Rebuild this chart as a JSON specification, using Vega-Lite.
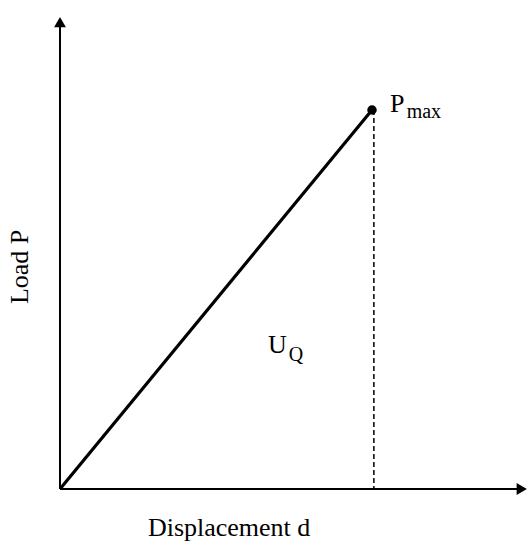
{
  "$schema": "https://vega.github.io/schema/vega-lite/v6.json",
  "width": 528,
  "height": 542,
  "autosize": {"type": "none"},
  "padding": 0,
  "background": "white",
  "config": {"view": {"stroke": null}},
  "datasets": {
    "axes": [
      {"x": 0, "y": 0, "x2": 1.485, "y2": 0},
      {"x": 0, "y": 0, "x2": 0, "y2": 1.23}
    ],
    "load": [{"x": 0, "y": 0, "x2": 1, "y2": 1}],
    "drop": [{"x": 1.006, "y": 1, "x2": 1.006, "y2": 0}],
    "peak": [{"x": 1, "y": 1}],
    "arrowUp": [{"x": 0, "y": 1.232}],
    "arrowRight": [{"x": 1.48, "y": 0}],
    "bigText": [
      {"x": 1.058, "y": 0.995, "label": "P"},
      {"x": 0.667, "y": 0.359, "label": "U"}
    ],
    "subText": [
      {"x": 1.111, "y": 0.98, "label": "max"},
      {"x": 0.733, "y": 0.338, "label": "Q"}
    ],
    "xTitle": [{"x": 0.542, "y": -0.125, "label": "Displacement d"}],
    "yTitle": [{"x": -0.128, "y": 0.586, "label": "Load P"}]
  },
  "encoding": {
    "x": {"field": "x", "type": "quantitative", "axis": null, "scale": {"domain": [-0.1923, 1.5], "nice": false, "zero": false}},
    "y": {"field": "y", "type": "quantitative", "axis": null, "scale": {"domain": [-0.1398, 1.2902], "nice": false, "zero": false}}
  },
  "layer": [
    {
      "data": {"name": "axes"},
      "mark": {"type": "rule", "color": "black", "strokeWidth": 2},
      "encoding": {"x2": {"field": "x2"}, "y2": {"field": "y2"}}
    },
    {
      "data": {"name": "arrowUp"},
      "mark": {"type": "point", "shape": "triangle-up", "filled": true, "color": "black", "size": 140, "opacity": 1},
      "encoding": {}
    },
    {
      "data": {"name": "arrowRight"},
      "mark": {"type": "point", "shape": "triangle-right", "filled": true, "color": "black", "size": 140, "opacity": 1},
      "encoding": {}
    },
    {
      "data": {"name": "load"},
      "mark": {"type": "rule", "color": "black", "strokeWidth": 3.2},
      "encoding": {"x2": {"field": "x2"}, "y2": {"field": "y2"}}
    },
    {
      "data": {"name": "drop"},
      "mark": {"type": "rule", "color": "black", "strokeWidth": 1.5, "strokeDash": [5, 3]},
      "encoding": {"x2": {"field": "x2"}, "y2": {"field": "y2"}}
    },
    {
      "data": {"name": "peak"},
      "mark": {"type": "point", "shape": "circle", "filled": true, "color": "black", "size": 90, "opacity": 1},
      "encoding": {}
    },
    {
      "data": {"name": "bigText"},
      "mark": {"type": "text", "font": "Liberation Serif", "fontSize": 26, "align": "left", "baseline": "alphabetic", "color": "black"},
      "encoding": {"text": {"field": "label"}}
    },
    {
      "data": {"name": "subText"},
      "mark": {"type": "text", "font": "Liberation Serif", "fontSize": 20, "align": "left", "baseline": "alphabetic", "color": "black"},
      "encoding": {"text": {"field": "label"}}
    },
    {
      "data": {"name": "xTitle"},
      "mark": {"type": "text", "font": "Liberation Serif", "fontSize": 26, "align": "center", "baseline": "alphabetic", "color": "black"},
      "encoding": {"text": {"field": "label"}}
    },
    {
      "data": {"name": "yTitle"},
      "mark": {"type": "text", "font": "Liberation Serif", "fontSize": 26, "align": "center", "baseline": "middle", "angle": 270, "color": "black"},
      "encoding": {"text": {"field": "label"}}
    }
  ]
}
